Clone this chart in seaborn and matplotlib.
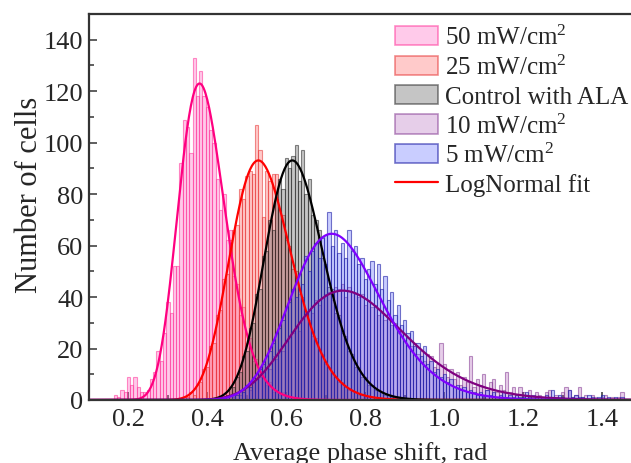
import numpy as np
import pandas as pd
import matplotlib
matplotlib.use("Agg")
import matplotlib.pyplot as plt
import matplotlib.colors as mcolors
import seaborn as sns
from matplotlib.patches import Patch
from matplotlib.lines import Line2D
from matplotlib.ticker import MultipleLocator

# ---------------- data ----------------
series_names = ["50 mW/cm$^2$", "25 mW/cm$^2$", "Control with ALA",
                "10 mW/cm$^2$", "5 mW/cm$^2$"]
bin_width = 0.1 / 12          # rad

# centre of the first bin of each series
first_bin = [0.2 - 4 / 120, 0.35, 0.35 + 11 / 120, 0.45, 0.45]

counts_50 = [2, 1, 4, 3, 9, 6, 9, 5, 3, 3,
             4, 8, 11, 19, 15, 26, 38, 34, 52, 52,
             92, 109, 106, 96, 133, 118, 128, 118, 114, 105,
             100, 86, 74, 80, 62, 66, 48, 45, 33, 36,
             22, 24, 15, 16, 10, 11, 6, 7, 3, 4,
             2, 3, 1, 1, 0, 1]
counts_25 = [1, 3, 2, 6, 7, 12, 13, 21, 22, 33,
             35, 47, 49, 62, 66, 68, 82, 78, 87, 89,
             88, 107, 97, 71, 89, 85, 88, 88, 74, 72,
             62, 60, 51, 50, 41, 40, 33, 31, 25, 24,
             19, 18, 14, 13, 10, 9, 7, 7, 5, 4,
             4, 3, 2, 2, 1, 1, 1]
counts_ctrl = [1, 2, 5, 5, 9, 11, 17, 19, 28, 30,
               41, 43, 56, 58, 70, 66, 78, 86, 82, 94,
               90, 95, 99, 85, 97, 80, 86, 72, 70, 66,
               55, 53, 44, 43, 34, 33, 26, 25, 19, 18,
               13, 13, 9, 9, 6, 6, 4, 4, 3, 2,
               2, 1, 1, 1]
counts_10 = [1, 2, 1, 3, 2, 4, 5, 4, 7, 8,
             9, 11, 13, 12, 17, 16, 20, 19, 23, 25,
             26, 28, 27, 32, 33, 35, 34, 39, 37, 40,
             41, 42, 39, 44, 43, 45, 40, 44, 42, 41,
             40, 41, 37, 39, 36, 37, 33, 34, 31, 32,
             29, 30, 26, 27, 23, 24, 21, 22, 18, 19,
             15, 18, 17, 13, 14, 22, 14, 9, 12, 8,
             11, 6, 9, 7, 17, 5, 8, 6, 10, 4,
             7, 8, 3, 6, 4, 11, 3, 5, 2, 5,
             3, 2, 4, 1, 3, 2, 1, 3, 4, 1,
             2, 1, 3, 5, 4, 1, 2, 5, 1, 2,
             0, 2, 1, 0, 1, 2, 0, 1, 0, 1,
             3]
counts_5 = [1, 0, 2, 2, 4, 3, 6, 5, 9, 8,
            12, 14, 17, 19, 22, 26, 28, 31, 36, 38,
            43, 40, 49, 45, 56, 50, 58, 61, 55, 63,
            64, 73, 60, 66, 57, 61, 55, 66, 58, 60,
            53, 55, 47, 51, 54, 45, 53, 43, 48, 39,
            42, 33, 37, 29, 31, 26, 27, 21, 22, 17,
            21, 14, 15, 11, 12, 9, 10, 7, 8, 5,
            6, 4, 5, 3, 4, 3, 2, 3, 2, 4,
            2, 3, 1, 2, 3, 1, 2, 1, 2, 1,
            1, 3, 1, 2, 1, 0, 1, 2, 1, 4,
            1, 2, 1, 0, 4, 1, 2, 1, 1, 0,
            2, 1, 0, 1, 2, 0, 1, 0, 1, 0,
            1]
all_counts = [counts_50, counts_25, counts_ctrl, counts_10, counts_5]

# LogNormal fit parameters: mode, peak height, log-width
fit_mode = [0.380, 0.529, 0.615, 0.743, 0.715]
fit_peak = [123.0, 93.1, 93.1, 42.5, 64.6]
fit_sigma = [0.155, 0.146, 0.120, 0.190, 0.160]

x_ticks = [0.2, 0.4, 0.6, 0.8, 1.0, 1.2, 1.4]
y_ticks = [0, 20, 40, 60, 80, 100, 120, 140]

# ---------------- styles ----------------
face_colors = ["#ff5cbf", "#ff5c5c", "#4d4d4d", "#a64fb3", "#4d5cff"]
face_alpha = [0.32, 0.32, 0.32, 0.28, 0.30]
edge_colors = ["#ff3399", "#e63333", "#262626", "#7a2a8a", "#1f1fa6"]
edge_alpha = [0.55, 0.55, 0.55, 0.5, 0.6]
line_colors = ["#ff0080", "#ff0000", "#000000", "#800080", "#7f00ff"]


def rgba(c, a):
    r, g, b = mcolors.to_rgb(c)
    return (r, g, b, a)


sns.set_style("ticks")
plt.rcParams["font.family"] = ["Liberation Serif", "DejaVu Serif"]
plt.rcParams["mathtext.fontset"] = "custom"
plt.rcParams["mathtext.rm"] = "Liberation Serif"
plt.rcParams["mathtext.it"] = "Liberation Serif:italic"

W, H = 631, 464
fig = plt.figure(figsize=(W / 100, H / 100), dpi=100)
ax = fig.add_axes([89 / W, 1 - 401 / H, (W - 89) / W, (401 - 15) / H])

for i, (start, cnt) in enumerate(zip(first_bin, all_counts)):
    centers = start + np.arange(len(cnt)) * bin_width
    df = pd.DataFrame({"x": centers, "n": np.asarray(cnt, dtype=float)})
    lo = start - bin_width / 2
    hi = start + (len(cnt) - 0.5) * bin_width
    n_before = len(ax.patches)
    sns.histplot(data=df, x="x", weights="n", binwidth=bin_width,
                 binrange=(lo, hi), ax=ax, color=face_colors[i],
                 linewidth=0.8, element="bars", fill=True)
    for p in ax.patches[n_before:]:
        p.set_alpha(None)
        p.set_facecolor(rgba(face_colors[i], face_alpha[i]))
        p.set_edgecolor(rgba(edge_colors[i], edge_alpha[i]))
        p.set_linewidth(0.8)

xs = np.linspace(0.1, 1.48, 600)
for m, h, s, lc in zip(fit_mode, fit_peak, fit_sigma, line_colors):
    ys = h * np.exp(-np.log(xs / m) ** 2 / (2 * s ** 2))
    sns.lineplot(x=xs, y=ys, ax=ax, color=lc, linewidth=1.6)

ax.set_xlim(0.1, 1.473)
ax.set_ylim(0, 150)
ax.set_xticks(x_ticks)
ax.set_xticklabels([f"{t:.1f}" for t in x_ticks])
ax.set_yticks(y_ticks)
ax.xaxis.set_minor_locator(MultipleLocator(0.1))
ax.yaxis.set_minor_locator(MultipleLocator(10))
ax.tick_params(which="both", direction="in", top=False, right=False,
               color="#333333", width=1.1)
ax.tick_params(which="major", length=6, labelsize=19, pad=4)
ax.tick_params(which="minor", length=3.5)
ax.tick_params(axis="x", which="major", pad=6)
for sp in ["left", "bottom", "top"]:
    ax.spines[sp].set_linewidth(1.6)
    ax.spines[sp].set_color("#333333")
ax.spines["right"].set_visible(False)

ax.set_xlabel("Average phase shift, rad", fontsize=19, labelpad=8)
ax.set_ylabel("Number of cells", fontsize=22)
ax.yaxis.set_label_coords(-0.083, 0.534)

handles = [Patch(facecolor=rgba(fc, fa), edgecolor=rgba(ec, ea), linewidth=1.2)
           for fc, fa, ec, ea in zip(face_colors, face_alpha, edge_colors, edge_alpha)]
handles.append(Line2D([0], [0], color="#ff0000", linewidth=1.6))
labels = series_names + ["LogNormal fit"]
fig.legend(handles, labels, loc="upper left",
           bbox_to_anchor=(395 / W, 1 - 26 / H), bbox_transform=fig.transFigure,
           frameon=False, fontsize=18, handlelength=1.7, handleheight=0.8,
           handletextpad=0.3, labelspacing=0.22, borderpad=0, borderaxespad=0)

fig.savefig("out.png", dpi=100)
